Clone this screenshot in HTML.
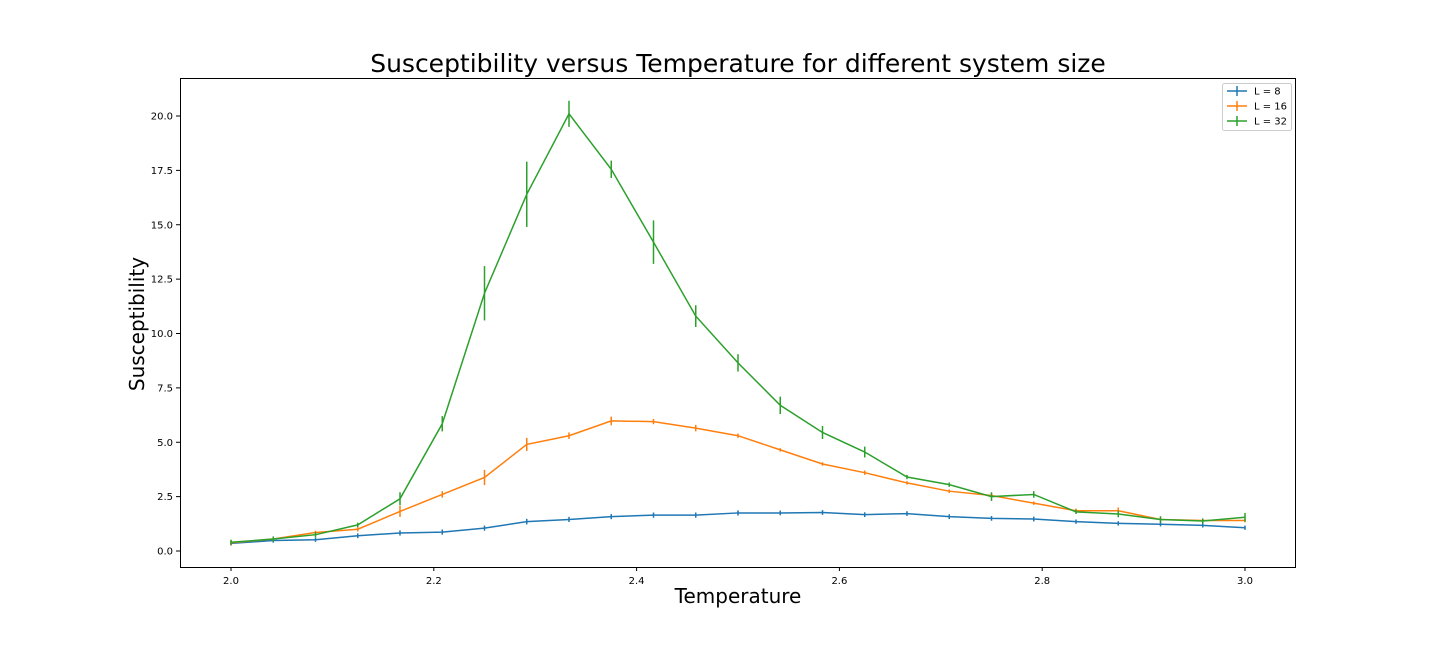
<!DOCTYPE html>
<html><head><meta charset="utf-8"><style>
body{margin:0;background:#fff;}
svg{display:block;font-family:"DejaVu Sans","Liberation Sans",sans-serif;}
</style></head><body>
<svg id="chart" width="1440" height="648">
<text x="738" y="72" font-size="25" text-anchor="middle">Susceptibility versus Temperature for different system size</text>
<text x="738" y="603" font-size="20" text-anchor="middle">Temperature</text>
<text x="144" y="324" font-size="20" text-anchor="middle" transform="rotate(-90 144 324)">Susceptibility</text>
<g id="ticks"></g>
<g id="series"></g>
<rect x="180.5" y="78.5" width="1115" height="489" fill="none" stroke="#000" stroke-width="1"/>
<g id="legend"></g>
</svg>
<script>
const temps = Array.from({length:25},(_,i)=>2+i/24);
const labels = ["L = 8","L = 16","L = 32"];
const colors = ["#1f77b4","#ff7f0e","#2ca02c"];
const chiL8 = [0.35,0.48,0.52,0.7,0.83,0.87,1.05,1.35,1.45,1.58,1.65,1.65,1.75,1.75,1.77,1.67,1.72,1.58,1.5,1.47,1.35,1.27,1.23,1.18,1.07];
const errL8 = [0.03,0.03,0.03,0.04,0.05,0.05,0.05,0.06,0.05,0.05,0.05,0.05,0.05,0.04,0.04,0.04,0.04,0.04,0.04,0.04,0.03,0.03,0.03,0.03,0.03];
const chiL16 = [0.38,0.55,0.85,1.0,1.82,2.6,3.38,4.9,5.3,5.98,5.95,5.65,5.3,4.65,4.0,3.6,3.13,2.75,2.55,2.2,1.85,1.85,1.45,1.4,1.4];
const errL16 = [0.05,0.05,0.08,0.1,0.25,0.15,0.35,0.3,0.15,0.2,0.12,0.15,0.1,0.08,0.08,0.1,0.08,0.08,0.1,0.08,0.1,0.15,0.1,0.08,0.08];
const chiL32 = [0.4,0.55,0.75,1.2,2.4,5.85,11.85,16.4,20.1,17.55,14.2,10.8,8.65,6.7,5.45,4.55,3.4,3.05,2.5,2.6,1.8,1.7,1.45,1.38,1.55];
const errL32 = [0.05,0.05,0.05,0.1,0.3,0.35,1.25,1.5,0.6,0.4,1.0,0.5,0.4,0.4,0.3,0.25,0.1,0.1,0.2,0.15,0.1,0.15,0.15,0.05,0.2];
const xTicks = [2.0,2.2,2.4,2.6,2.8,3.0];
const yTicks = [0.0,2.5,5.0,7.5,10.0,12.5,15.0,17.5,20.0];
const xs = v => 231 + (v-2)*1014;
const ys = v => 551 - v*21.75;
const NS="http://www.w3.org/2000/svg";
function mk(tag,attrs,parent){const e=document.createElementNS(NS,tag);for(const k in attrs)e.setAttribute(k,attrs[k]);parent.appendChild(e);return e;}
const tg=document.getElementById('ticks');
xTicks.forEach(t=>{
  const l=mk('line',{x1:xs(t),x2:xs(t),y1:567,y2:571,stroke:'#000'},tg);
  
  
  const tx=mk('text',{x:xs(t),y:584,'font-size':10,'text-anchor':'middle'},tg);tx.textContent=t.toFixed(1);
  
  
});
yTicks.forEach(t=>{
  const l=mk('line',{x1:176,x2:180,y1:ys(t),y2:ys(t),stroke:'#000'},tg);
  
  
  const tx=mk('text',{x:173,y:ys(t)+3.5,'font-size':10,'text-anchor':'end'},tg);tx.textContent=t.toFixed(1);
  
  
});
const sg=document.getElementById('series');
[[chiL8,errL8],[chiL16,errL16],[chiL32,errL32]].forEach(([v,e],si)=>{
  const g=mk('g',{},sg);
  
  
  const p=mk('polyline',{points:v.map((y,i)=>xs(temps[i])+','+ys(y)).join(' '),fill:'none',stroke:colors[si],'stroke-width':1.5},g);
  
  
  v.forEach((y,i)=>{
    const b=mk('line',{x1:xs(temps[i]),x2:xs(temps[i]),y1:ys(y-e[i])+ (e[i]<0.08?1.5:0),y2:ys(y+e[i])-(e[i]<0.08?1.5:0),stroke:colors[si],'stroke-width':1.5},g);
    
    
  });
});
const lg=document.getElementById('legend');
mk('rect',{x:1222.5,y:83.5,width:69,height:47,rx:2,fill:'#fff',stroke:'#ccc'},lg);
labels.forEach((lab,i)=>{
  const y=91+i*15;
  mk('line',{x1:1227,x2:1247,y1:y,y2:y,stroke:colors[i],'stroke-width':1.5},lg);
  mk('line',{x1:1237,x2:1237,y1:y-5,y2:y+5,stroke:colors[i],'stroke-width':1.5},lg);
  const t=mk('text',{x:1254,y:y+3.5,'font-size':10},lg);t.textContent=lab;
  
  
});
</script>
</body></html>
